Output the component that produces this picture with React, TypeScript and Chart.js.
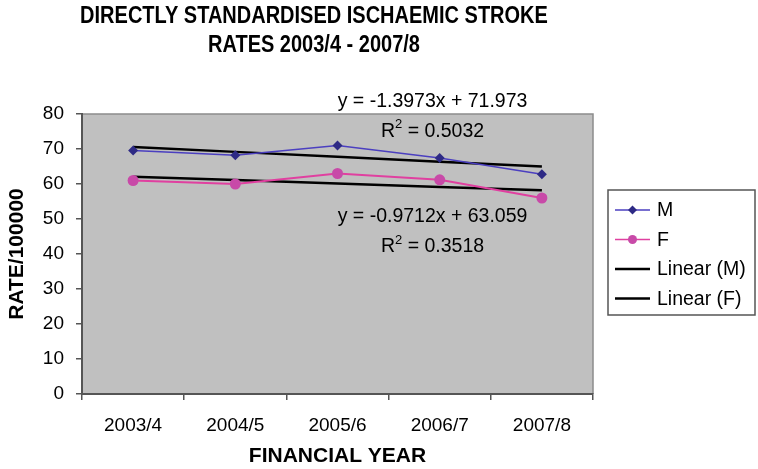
import { useEffect, useRef } from 'react'
import { Chart, registerables } from 'chart.js'

Chart.register(...registerables)

const years = ['2003/4', '2004/5', '2005/6', '2006/7', '2007/8']
const maleRates = [69.6, 68.2, 71.0, 67.4, 62.8]
const femaleRates = [61.0, 60.0, 63.0, 61.2, 56.0]
// trend lines as printed on the chart: y = slope * x + intercept, x = 1..5
const maleTrend = { slope: -1.3973, intercept: 71.973, r2: '0.5032' }
const femaleTrend = { slope: -0.9712, intercept: 63.059, r2: '0.3518' }
const yTicks = [0, 10, 20, 30, 40, 50, 60, 70, 80]

const FONT = '"Liberation Sans", Arial, sans-serif'

const trendValues = (t) => years.map((_, i) => t.slope * (i + 1) + t.intercept)

const legendItems = [
  { label: 'M', color: '#4B3FC0', marker: 'diamond', markerColor: '#2E2A85' },
  { label: 'F', color: '#E040A0', marker: 'circle', markerColor: '#C84AA8' },
  { label: 'Linear (M)', color: '#000000', marker: null, markerColor: null },
  { label: 'Linear (F)', color: '#000000', marker: null, markerColor: null },
]

const plotBackground = {
  id: 'plotBackground',
  beforeDraw(chart) {
    const { ctx, chartArea: a } = chart
    ctx.save()
    ctx.fillStyle = '#C0C0C0'
    ctx.fillRect(a.left, a.top, a.right - a.left, a.bottom - a.top)
    ctx.strokeStyle = '#8C8C8C'
    ctx.lineWidth = 1.5
    ctx.beginPath()
    ctx.moveTo(a.left, a.top)
    ctx.lineTo(a.right, a.top)
    ctx.lineTo(a.right, a.bottom)
    ctx.stroke()
    ctx.restore()
  },
}

const textLayer = {
  id: 'textLayer',
  afterDraw(chart) {
    const { ctx } = chart
    const x = chart.scales.x
    const y = chart.scales.y
    ctx.save()
    ctx.fillStyle = '#000'
    ctx.textBaseline = 'middle'
    ctx.textAlign = 'center'

    // title, slightly stretched vertically like the original
    ctx.font = `bold 20px ${FONT}`
    const drawTitle = (text, cx, cy) => {
      ctx.save()
      ctx.translate(cx, cy)
      ctx.scale(1, 1.15)
      ctx.fillText(text, 0, 0)
      ctx.restore()
    }
    drawTitle('DIRECTLY STANDARDISED ISCHAEMIC STROKE', 314, 17)
    drawTitle('RATES 2003/4 - 2007/8', 314, 46)

    // trend equations, anchored to the data scales
    const EQ = `19.5px ${FONT}`
    ctx.font = EQ
    const ex = x.getPixelForValue(2.93)
    const drawR2 = (val, cx, cy) => {
      const rest = ' = ' + val
      const wR = ctx.measureText('R').width
      ctx.font = `13px ${FONT}`
      const w2 = ctx.measureText('2').width
      ctx.font = EQ
      const wRest = ctx.measureText(rest).width
      const total = wR + w2 + wRest
      let sx = cx - total / 2
      ctx.textAlign = 'left'
      ctx.fillText('R', sx, cy)
      sx += wR
      ctx.font = `13px ${FONT}`
      ctx.fillText('2', sx, cy - 7)
      sx += w2
      ctx.font = EQ
      ctx.fillText(rest, sx, cy)
      ctx.textAlign = 'center'
    }
    ctx.fillText(`y = ${maleTrend.slope}x + ${maleTrend.intercept}`, ex, y.getPixelForValue(83.4))
    drawR2(maleTrend.r2, ex, y.getPixelForValue(74.9))
    ctx.fillText(`y = ${femaleTrend.slope}x + ${femaleTrend.intercept}`, ex, y.getPixelForValue(50.6))
    drawR2(femaleTrend.r2, ex, y.getPixelForValue(42))

    // legend
    const lx = 608
    const ly = 190
    ctx.strokeStyle = '#555'
    ctx.lineWidth = 1.5
    ctx.strokeRect(lx, ly, 147, 125)
    ctx.font = `19.5px ${FONT}`
    ctx.textAlign = 'left'
    legendItems.forEach((item, i) => {
      const cy = ly + 20 + i * 29.5
      ctx.strokeStyle = item.color
      ctx.lineWidth = item.marker ? 1.5 : 2.5
      ctx.beginPath()
      ctx.moveTo(lx + 7, cy)
      ctx.lineTo(lx + 42, cy)
      ctx.stroke()
      if (item.marker === 'diamond') {
        ctx.fillStyle = item.markerColor
        ctx.beginPath()
        ctx.moveTo(lx + 24.5, cy - 4.5)
        ctx.lineTo(lx + 29, cy)
        ctx.lineTo(lx + 24.5, cy + 4.5)
        ctx.lineTo(lx + 20, cy)
        ctx.closePath()
        ctx.fill()
      } else if (item.marker === 'circle') {
        ctx.fillStyle = item.markerColor
        ctx.beginPath()
        ctx.arc(lx + 24.5, cy, 4.5, 0, Math.PI * 2)
        ctx.fill()
      }
      ctx.fillStyle = '#000'
      ctx.fillText(item.label, lx + 49, cy + 1)
    })
    ctx.restore()
  },
}

export default function App() {
  const canvasRef = useRef(null)

  useEffect(() => {
    document.body.style.margin = '0'
    const chart = new Chart(canvasRef.current, {
      type: 'line',
      data: {
        labels: years,
        datasets: [
          {
            label: 'M',
            data: maleRates,
            borderColor: '#4B3FC0',
            backgroundColor: '#2E2A85',
            borderWidth: 1.5,
            pointStyle: 'rectRot',
            pointRadius: 5,
            pointBorderWidth: 0,
            tension: 0,
          },
          {
            label: 'F',
            data: femaleRates,
            borderColor: '#E040A0',
            backgroundColor: '#C84AA8',
            borderWidth: 2,
            pointStyle: 'circle',
            pointRadius: 5.5,
            pointBorderWidth: 0,
            tension: 0,
          },
          {
            label: 'Linear (M)',
            data: trendValues(maleTrend),
            borderColor: '#000',
            borderWidth: 2.5,
            pointRadius: 0,
            tension: 0,
          },
          {
            label: 'Linear (F)',
            data: trendValues(femaleTrend),
            borderColor: '#000',
            borderWidth: 2.5,
            pointRadius: 0,
            tension: 0,
          },
        ],
      },
      options: {
        animation: false,
        responsive: false,
        devicePixelRatio: 1,
        layout: { padding: { top: 114, right: 165, left: 0, bottom: 0 } },
        plugins: {
          legend: { display: false },
          tooltip: { enabled: false },
        },
        scales: {
          x: {
            offset: true,
            afterFit: (s) => { s.height = 75 },
            grid: {
              offset: true,
              drawOnChartArea: false,
              color: '#555',
              tickLength: 6,
              lineWidth: 1.5,
            },
            border: { color: '#555', width: 2 },
            ticks: { color: '#000', font: { family: FONT, size: 19 }, padding: 14 },
            title: {
              display: true,
              text: 'FINANCIAL YEAR',
              color: '#000',
              font: { family: FONT, size: 21, weight: 'bold' },
              padding: { top: 0, bottom: 0 },
            },
          },
          y: {
            min: 0,
            max: 80,
            afterFit: (s) => { s.width = 82 },
            afterBuildTicks: (s) => { s.ticks = yTicks.map((v) => ({ value: v })) },
            grid: {
              drawOnChartArea: false,
              color: '#555',
              tickLength: 6,
              lineWidth: 1.5,
            },
            border: { color: '#555', width: 2 },
            ticks: { color: '#000', font: { family: FONT, size: 19 }, padding: 12 },
            title: {
              display: true,
              text: 'RATE/100000',
              color: '#000',
              font: { family: FONT, size: 21, weight: 'bold' },
              padding: { top: 5, bottom: 0 },
            },
          },
        },
      },
      plugins: [plotBackground, textLayer],
    })
    return () => chart.destroy()
  }, [])

  return (
    <div style={{ width: 758, height: 469, background: '#fff' }}>
      <canvas ref={canvasRef} width={758} height={469} />
    </div>
  )
}
